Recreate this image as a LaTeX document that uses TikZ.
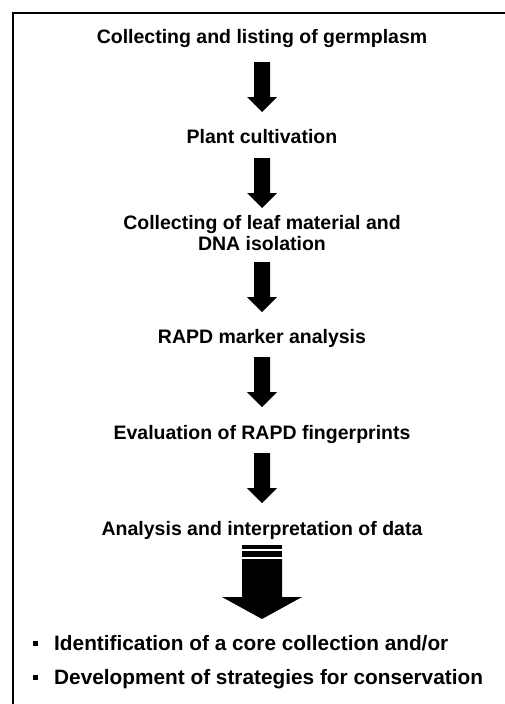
\documentclass[tikz,border=0pt]{standalone}
\usepackage{fontspec}
\setmainfont{Liberation Sans}
\begin{document}
\begin{tikzpicture}[x=1pt,y=-1pt,
  flow/.style={font=\bfseries\fontsize{19.5}{22}\selectfont, anchor=base, inner sep=0pt},
  item/.style={font=\bfseries\fontsize{20.8}{25}\selectfont, anchor=base west, inner sep=0pt},
  bulletsq/.style={fill=black, draw=none, inner sep=0pt, minimum size=5pt, rectangle},
  frameline/.style={line width=2pt},
  smallarrow/.pic={\fill (-8,0) -- (8,0) -- (8,35) -- (15,35) -- (0,50) -- (-15,35) -- (-8,35) -- cycle;},
  bigarrow/.pic={
    \fill (-20,0) rectangle (20,4);
    \fill (-20,6) rectangle (20,12);
    \fill (-20,14) -- (20,14) -- (20,52) -- (40,52) -- (0,74) -- (-40,52) -- (-20,52) -- cycle;}]
\useasboundingbox (0,0) rectangle (504,704);
\draw[frameline] (13,706) -- (13,13) -- (506,13);

\node[flow] (t1) at (262,43) {Collecting and listing of germplasm};
\node[flow] (t2) at (262,143) {Plant cultivation};
\node[flow] (t3a) at (262,229) {Collecting of leaf material and};
\node[flow] (t3b) at (262,250) {DNA isolation};
\node[flow] (t4) at (262,343) {RAPD marker analysis};
\node[flow] (t5) at (262,439) {Evaluation of RAPD fingerprints};
\node[flow] (t6) at (262,535) {Analysis and interpretation of data};

\pic at (262,62) {smallarrow};
\pic at (262,158) {smallarrow};
\pic at (262,262) {smallarrow};
\pic at (262,357) {smallarrow};
\pic at (262,453) {smallarrow};
\pic at (262,545) {bigarrow};

\node[bulletsq] (s1) at (35,643) {};
\node[item] (b1) at (54,650) {Identification of a core collection and/or};
\node[bulletsq] (s2) at (35,677) {};
\node[item] (b2) at (54,684) {Development of strategies for conservation};
\end{tikzpicture}
\end{document}
